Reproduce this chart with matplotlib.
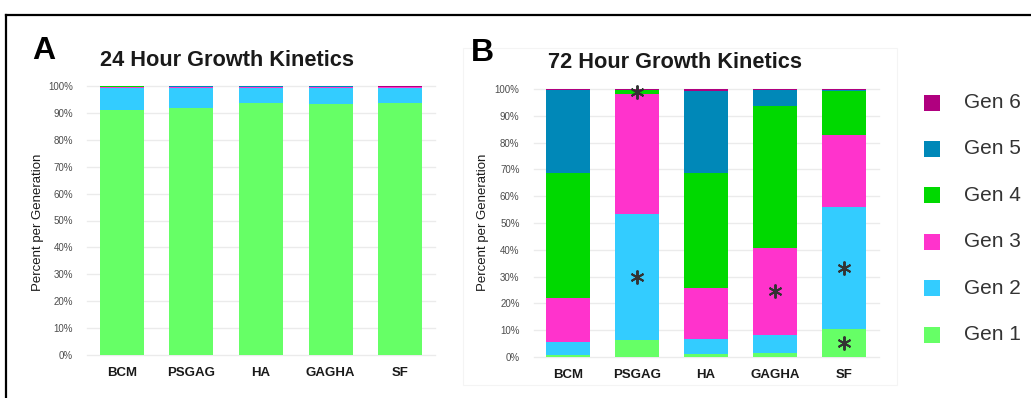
import numpy as np
import matplotlib
matplotlib.use("Agg")
import matplotlib.pyplot as plt
from matplotlib.lines import Line2D
from matplotlib.patches import Rectangle

plt.rcParams['font.family'] = ['Liberation Sans', 'DejaVu Sans']

# ---- data -------------------------------------------------------------
groups = ["BCM", "PSGAG", "HA", "GAGHA", "SF"]
generations = ["Gen 1", "Gen 2", "Gen 3", "Gen 4", "Gen 5", "Gen 6"]
gen_colors = ["#66FF66", "#33CCFF", "#FF33CC", "#00D900", "#0088B8", "#B0007F"]

# percent of cells in each generation after 24 h (rows = groups, cols = Gen 1..6)
pct_24h = np.array([
    [91.0, 8.3, 0.2, 0.4, 0.05, 0.05],
    [92.0, 7.1, 0.4, 0.3, 0.1, 0.1],
    [93.5, 5.6, 0.5, 0.2, 0.05, 0.15],
    [93.2, 5.9, 0.5, 0.2, 0.05, 0.15],
    [93.7, 5.5, 0.3, 0.2, 0.1, 0.2],
])

# percent of cells in each generation after 72 h
pct_72h = np.array([
    [0.6, 4.9, 16.5, 46.5, 31.1, 0.4],
    [6.5, 47.0, 44.6, 1.4, 0.3, 0.2],
    [1.1, 5.7, 19.1, 42.8, 30.7, 0.6],
    [1.6, 6.6, 32.5, 53.1, 6.0, 0.2],
    [10.4, 45.6, 27.0, 16.1, 0.7, 0.2],
])

# significance markers for the 72 h panel: (group index, generation index)
sig_72h = [(1, 3), (1, 1), (3, 2), (4, 1), (4, 0)]

yticks = np.arange(0, 101, 10)
ytick_labels = [f"{v}%" for v in yticks]

# ---- figure -----------------------------------------------------------
W, H = 1031, 398
fig = plt.figure(figsize=(W / 100, H / 100), dpi=100)


def px_axes(x0, y_top, x1, y_bot):
    return fig.add_axes([x0 / W, 1 - y_bot / H, (x1 - x0) / W, (y_bot - y_top) / H])


def stacked_panel(ax, data, title_xy, title, letter_xy, letter, ylab_x):
    x = np.arange(len(groups))
    bottom = np.zeros(len(groups))
    for g in range(len(generations)):
        ax.bar(x, data[:, g], bottom=bottom, width=0.635,
               color=gen_colors[g], linewidth=0, zorder=2)
        bottom += data[:, g]
    ax.set_xlim(-0.5, len(groups) - 0.5)
    ax.set_ylim(0, 100)
    ax.set_yticks(yticks)
    ax.set_yticklabels(ytick_labels, fontsize=7, color="#4D4D4D")
    ax.set_xticks(x)
    ax.set_xticklabels(groups, fontsize=9.5, fontweight="bold", color="#1A1A1A")
    ax.tick_params(axis="both", length=0)
    ax.tick_params(axis="y", pad=10)
    ax.tick_params(axis="x", pad=9)
    ax.grid(axis="y", color="#EBEBEB", linewidth=1.0, zorder=0)
    for gl in ax.get_ygridlines():
        gl.set_clip_on(False)
    for s in ax.spines.values():
        s.set_visible(False)
    fig.text(ylab_x / W, 1 - 222 / H, "Percent per Generation", rotation=90,
             ha="center", va="center", fontsize=9.5, color="#1A1A1A")
    fig.text(title_xy[0] / W, 1 - title_xy[1] / H, title, fontsize=15.7,
             fontweight="bold", color="#1A1A1A", ha="left", va="center")
    fig.text(letter_xy[0] / W, 1 - letter_xy[1] / H, letter, fontsize=23,
             fontweight="bold", color="black", ha="left", va="center")


# outer frame (open on the right and bottom)
fig.add_artist(Line2D([5.5 / W, 5.5 / W], [1 - 15 / H, 0], color="black", lw=1.6))
fig.add_artist(Line2D([5.5 / W, 1], [1 - 15 / H, 1 - 15 / H], color="black", lw=1.6))

# faint box around panel B
fig.add_artist(Rectangle((463 / W, 1 - 385 / H), (897 - 463) / W, (385 - 48) / H,
                         transform=fig.transFigure, fill=False,
                         edgecolor="#F4F4F4", lw=0.8))

axA = px_axes(87, 86, 435, 355)
stacked_panel(axA, pct_24h, (100, 60), "24 Hour Growth Kinetics", (32, 51), "A", 38)

axB = px_axes(533.5, 89, 878.5, 357)
stacked_panel(axB, pct_72h, (548, 63), "72 Hour Growth Kinetics", (471, 53), "B", 483)

# asterisks at the middle of the significant segments
cum = np.cumsum(pct_72h, axis=1)
for gi, gen in sig_72h:
    lo = cum[gi, gen] - pct_72h[gi, gen]
    mid = lo + pct_72h[gi, gen] / 2
    axB.plot(gi, mid, marker=(6, 2, 0), markersize=10, markeredgewidth=1.4,
             color="#333333", zorder=5, clip_on=False)

# legend, Gen 6 on top
for k, g in enumerate(reversed(range(len(generations)))):
    yc = 102.5 + k * 46.4
    fig.add_artist(Rectangle((924 / W, 1 - (yc + 8) / H), 16 / W, 16 / H,
                             transform=fig.transFigure, facecolor=gen_colors[g],
                             edgecolor="none"))
    fig.text(964 / W, 1 - yc / H, generations[g], fontsize=15, color="#333333",
             ha="left", va="center")

fig.savefig("out.png", dpi=100)
